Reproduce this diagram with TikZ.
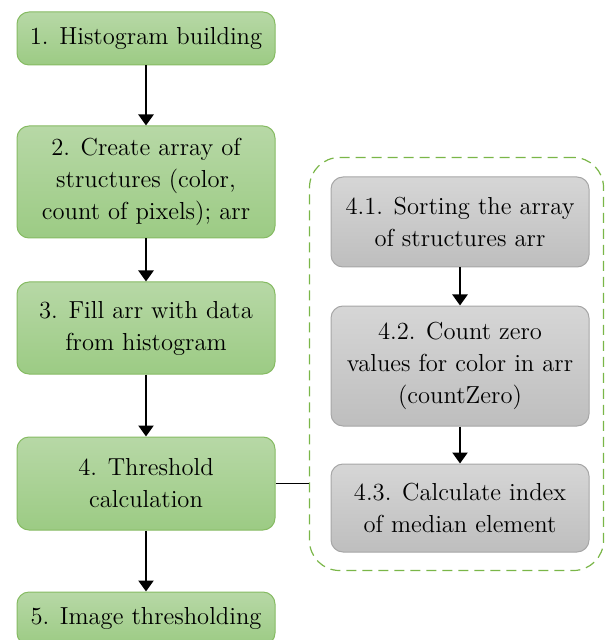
\documentclass[tikz,border=0pt]{standalone}
\usetikzlibrary{positioning,arrows.meta,fit,calc}

\definecolor{greentop}{HTML}{B7D8A6}
\definecolor{greenbot}{HTML}{9CCB84}
\definecolor{greenline}{HTML}{86BB63}
\definecolor{greytop}{HTML}{D6D6D6}
\definecolor{greybot}{HTML}{BEBEBE}
\definecolor{greyline}{HTML}{A6A6A6}
\definecolor{dashgreen}{HTML}{7AB648}

\tikzset{
  mainbox/.style={draw=greenline, line width=0.5pt, rounded corners=6pt,
    top color=greentop, bottom color=greenbot, minimum width=129pt,
    align=center, inner sep=2pt, font=\fontsize{12.3}{16}\selectfont},
  subbox/.style={draw=greyline, line width=0.5pt, rounded corners=6pt,
    top color=greytop, bottom color=greybot, minimum width=129pt,
    align=center, inner sep=2pt, font=\fontsize{12.3}{16}\selectfont},
  grpbox/.style={draw=dashgreen, line width=0.6pt, dash pattern=on 5pt off 3pt,
    rounded corners=15pt, inner sep=0pt},
  flow/.style={-{Triangle[length=5.5pt,width=7.5pt]}, line width=1.2pt},
  link/.style={line width=0.5pt},
}

\begin{document}
\begin{tikzpicture}
\useasboundingbox (0,0) rectangle (304.5pt,-320pt);

% main steps
\node[mainbox, minimum height=26.5pt] (hist) at (73pt,-19.25pt) {1. Histogram building};
\node[mainbox, minimum height=56pt, below=30pt of hist] (arr) {2. Create array of\\structures (color,\\count of pixels); arr};
\node[mainbox, minimum height=46pt, below=21.5pt of arr] (fill) {3. Fill arr with data\\from histogram};
\node[mainbox, minimum height=46.5pt, below=31pt of fill] (thr) {4. Threshold\\calculation};
\node[mainbox, minimum height=26.5pt, below=30.5pt of thr] (bin) {5. Image thresholding};

% sub-steps of step 4
\node[subbox, minimum height=45pt] (sort) at (230pt,-111pt) {4.1. Sorting the array\\of structures arr};
\node[subbox, minimum height=60pt, below=19pt of sort] (zero) {4.2. Count zero\\values for color in arr\\(countZero)};
\node[subbox, minimum height=44pt, below=18.5pt of zero] (med) {4.3. Calculate index\\of median element};

\coordinate (grpnw) at ($(sort.north west)+(-10.5pt,9.5pt)$);
\coordinate (grpse) at ($(med.south east)+(7pt,-9pt)$);
\node[grpbox, fit=(grpnw)(grpse)] (grp) {};

\foreach \a/\b in {hist/arr, arr/fill, fill/thr, thr/bin, sort/zero, zero/med}
  \draw[flow] (\a.south) -- (\b.north);

\draw[link] (thr.east) -- (thr.east -| grp.west);
\end{tikzpicture}
\end{document}
